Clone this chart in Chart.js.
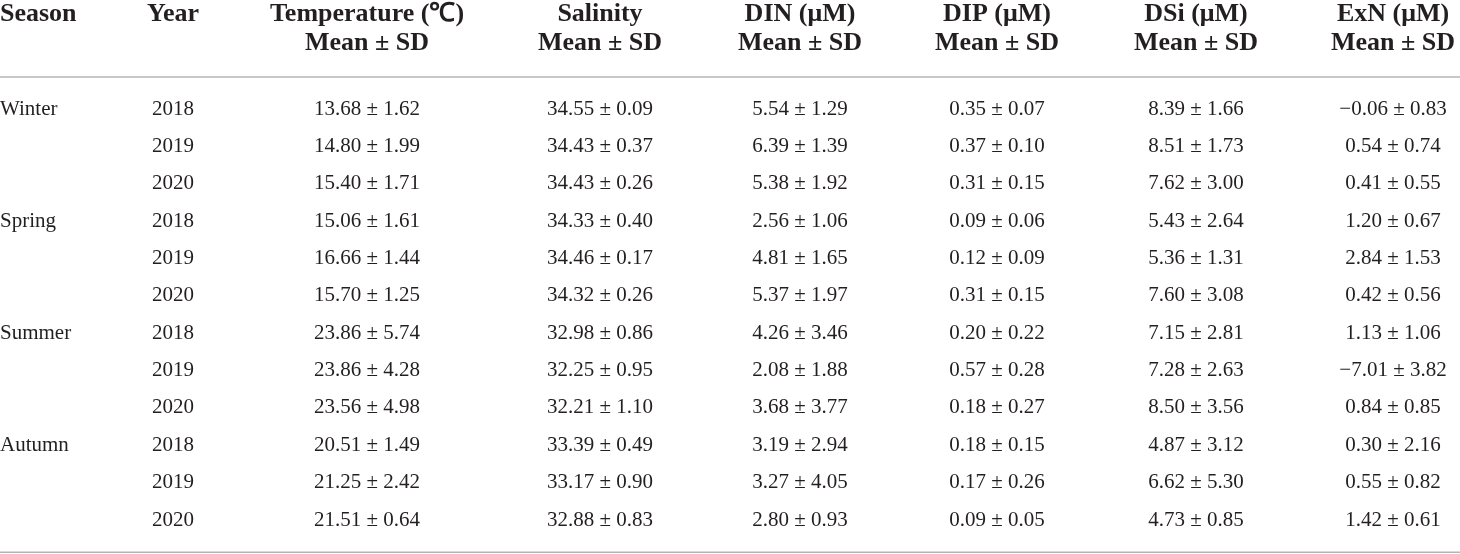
<!DOCTYPE html>
<html>
<head>
<meta charset="utf-8">
<script src="https://cdn.jsdelivr.net/npm/chart.js@4"></script>
<style>
  body { margin: 0; background: #fff; }
  #wrap { width: 1460px; height: 554px; }
</style>
</head>
<body>
<div id="wrap"><canvas id="myChart" width="1460" height="554"></canvas></div>
<script>
const seasons = ['Winter', 'Spring', 'Summer', 'Autumn']
const years = ['2018', '2019', '2020']

const headTop = ['Season', 'Year', 'Temperature (\u2103)', 'Salinity', 'DIN (\u03bcM)', 'DIP (\u03bcM)', 'DSi (\u03bcM)', 'ExN (\u03bcM)']
const headBottom = ['', '', 'Mean \u00b1 SD', 'Mean \u00b1 SD', 'Mean \u00b1 SD', 'Mean \u00b1 SD', 'Mean \u00b1 SD', 'Mean \u00b1 SD']

const tempMean = [13.68, 14.80, 15.40, 15.06, 16.66, 15.70, 23.86, 23.86, 23.56, 20.51, 21.25, 21.51]
const tempSd = [1.62, 1.99, 1.71, 1.61, 1.44, 1.25, 5.74, 4.28, 4.98, 1.49, 2.42, 0.64]
const salMean = [34.55, 34.43, 34.43, 34.33, 34.46, 34.32, 32.98, 32.25, 32.21, 33.39, 33.17, 32.88]
const salSd = [0.09, 0.37, 0.26, 0.40, 0.17, 0.26, 0.86, 0.95, 1.10, 0.49, 0.90, 0.83]
const dinMean = [5.54, 6.39, 5.38, 2.56, 4.81, 5.37, 4.26, 2.08, 3.68, 3.19, 3.27, 2.80]
const dinSd = [1.29, 1.39, 1.92, 1.06, 1.65, 1.97, 3.46, 1.88, 3.77, 2.94, 4.05, 0.93]
const dipMean = [0.35, 0.37, 0.31, 0.09, 0.12, 0.31, 0.20, 0.57, 0.18, 0.18, 0.17, 0.09]
const dipSd = [0.07, 0.10, 0.15, 0.06, 0.09, 0.15, 0.22, 0.28, 0.27, 0.15, 0.26, 0.05]
const dsiMean = [8.39, 8.51, 7.62, 5.43, 5.36, 7.60, 7.15, 7.28, 8.50, 4.87, 6.62, 4.73]
const dsiSd = [1.66, 1.73, 3.00, 2.64, 1.31, 3.08, 2.81, 2.63, 3.56, 3.12, 5.30, 0.85]
const exnMean = [-0.06, 0.54, 0.41, 1.20, 2.84, 0.42, 1.13, -7.01, 0.84, 0.30, 0.55, 1.42]
const exnSd = [0.83, 0.74, 0.55, 0.67, 1.53, 0.56, 1.06, 3.82, 0.85, 2.16, 0.82, 0.61]

// layout (x in canvas px, y in row units)
const colX = [0, 173, 367, 600, 800, 997, 1196, 1393]
const headRow1 = -2.53
const headRow2 = -1.76
const headRule = -0.86
const footRule = 11.86

function fmt(v){
    const s = Math.abs(v).toFixed(2)
    return v < 0 ? '\u2212' + s : s
}

function cell(mean, sd, i){
    return `${fmt(mean[i])} \u00b1 ${sd[i].toFixed(2)}`
}

const pairs = [[tempMean, tempSd], [salMean, salSd], [dinMean, dinSd], [dipMean, dipSd], [dsiMean, dsiSd], [exnMean, exnSd]]
const nRows = seasons.length * years.length

const tablePlugin = {
    id: 'tableText',
    afterDatasetsDraw(chart){
        const ctx = chart.ctx
        const xs = chart.scales.x
        const ys = chart.scales.y
        ctx.save()
        ctx.fillStyle = '#231f20'
        ctx.textBaseline = 'middle'

        // header
        ctx.font = 'bold 26px "Liberation Serif", serif'
        headTop.forEach((t, j) => {
            ctx.textAlign = j == 0 ? 'left' : 'center'
            ctx.fillText(t, xs.getPixelForValue(colX[j]), ys.getPixelForValue(headRow1))
            if(headBottom[j]){
                ctx.fillText(headBottom[j], xs.getPixelForValue(colX[j]), ys.getPixelForValue(headRow2))
            }
        })

        // body
        ctx.font = '21px "Liberation Serif", serif'
        for(let i = 0; i < nRows; i++){
            const py = ys.getPixelForValue(i)
            if(i % years.length == 0){
                ctx.textAlign = 'left'
                ctx.fillText(seasons[i / years.length], xs.getPixelForValue(colX[0]), py)
            }
            ctx.textAlign = 'center'
            ctx.fillText(years[i % years.length], xs.getPixelForValue(colX[1]), py)
            pairs.forEach((p, k) => {
                ctx.fillText(cell(p[0], p[1], i), xs.getPixelForValue(colX[k + 2]), py)
            })
        }

        // rules
        ctx.strokeStyle = '#b4b4b4'
        ctx.lineWidth = 1.5
        ;[headRule, footRule].forEach(r => {
            const py = ys.getPixelForValue(r)
            ctx.beginPath()
            ctx.moveTo(xs.left, py)
            ctx.lineTo(xs.right, py)
            ctx.stroke()
        })
        ctx.restore()
    }
}

const points = []
for(let i = 0; i < nRows; i++){
    colX.forEach(cx => points.push({x: cx, y: i}))
}

const config = {
    type: 'scatter',
    data: {
        datasets: [{
            data: points,
            pointRadius: 0,
            pointHoverRadius: 0
        }]
    },
    options: {
        responsive: false,
        animation: false,
        events: [],
        layout: { padding: 0 },
        plugins: {
            legend: { display: false },
            tooltip: { enabled: false }
        },
        scales: {
            x: { type: 'linear', display: false, min: 0, max: 1460 },
            y: { type: 'linear', display: false, reverse: true, min: -2.918, max: 11.91 }
        }
    },
    plugins: [tablePlugin]
}

const myChart = new Chart(document.getElementById('myChart'), config)
</script>
</body>
</html>
